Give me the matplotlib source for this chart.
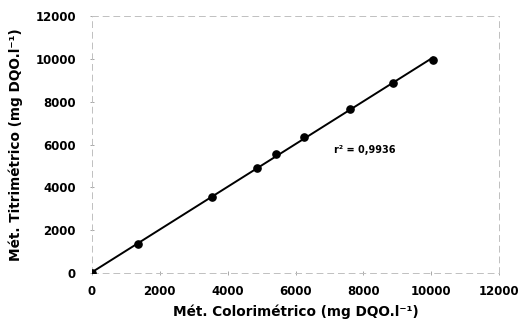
import matplotlib
matplotlib.use("Agg")
import matplotlib.pyplot as plt
import numpy as np

colorimetrico = [0, 1350, 3550, 4870, 5430, 6250, 7600, 8870, 10050]
titrimetrico = [0, 1350, 3550, 4900, 5550, 6350, 7650, 8870, 9950]
ticks = [0, 2000, 4000, 6000, 8000, 10000, 12000]
r2_text = "r² = 0,9936"

plt.rcParams['font.family'] = ['DejaVu Sans']
fig = plt.figure(figsize=(5.22, 3.22), dpi=100)
ax = fig.add_axes([92/522, 1-273/322, (499-92)/522, (273-16)/322])

x = np.array(colorimetrico)
y = np.array(titrimetrico)
coef = np.polyfit(x, y, 1)
xl = np.array([x.min(), x.max()])
ax.plot(xl, np.polyval(coef, xl), color='black', lw=1.4, zorder=2)
ax.plot(x, y, 'o', color='black', ms=5.2, zorder=3)

ax.set_xlim(0, 12000)
ax.set_ylim(0, 12000)
ax.set_xticks(ticks)
ax.set_yticks(ticks)
ax.set_xticklabels([str(t) for t in ticks], fontsize=8.5, fontweight='bold')
ax.set_yticklabels([str(t) for t in ticks], fontsize=8.5, fontweight='bold')
ax.tick_params(axis='both', direction='inout', length=3, width=0.6, color='#999999')
ax.tick_params(axis='x', pad=7)
ax.tick_params(axis='y', pad=10)
for s in ax.spines.values():
    s.set_color('#c0c0c0')
    s.set_linestyle((0, (6, 5)))
    s.set_linewidth(0.7)

ax.text(7130, 5750, r2_text, fontsize=7, fontweight='bold', ha='left', va='center')

ax.set_xlabel("Mét. Colorimétrico (mg DQO.l⁻¹)", fontsize=9.8, fontweight='bold', labelpad=5)
ax.set_ylabel("Mét. Titrimétrico (mg DQO.l⁻¹)", fontsize=9.8, fontweight='bold', labelpad=9)

fig.savefig("out.png", dpi=100)
